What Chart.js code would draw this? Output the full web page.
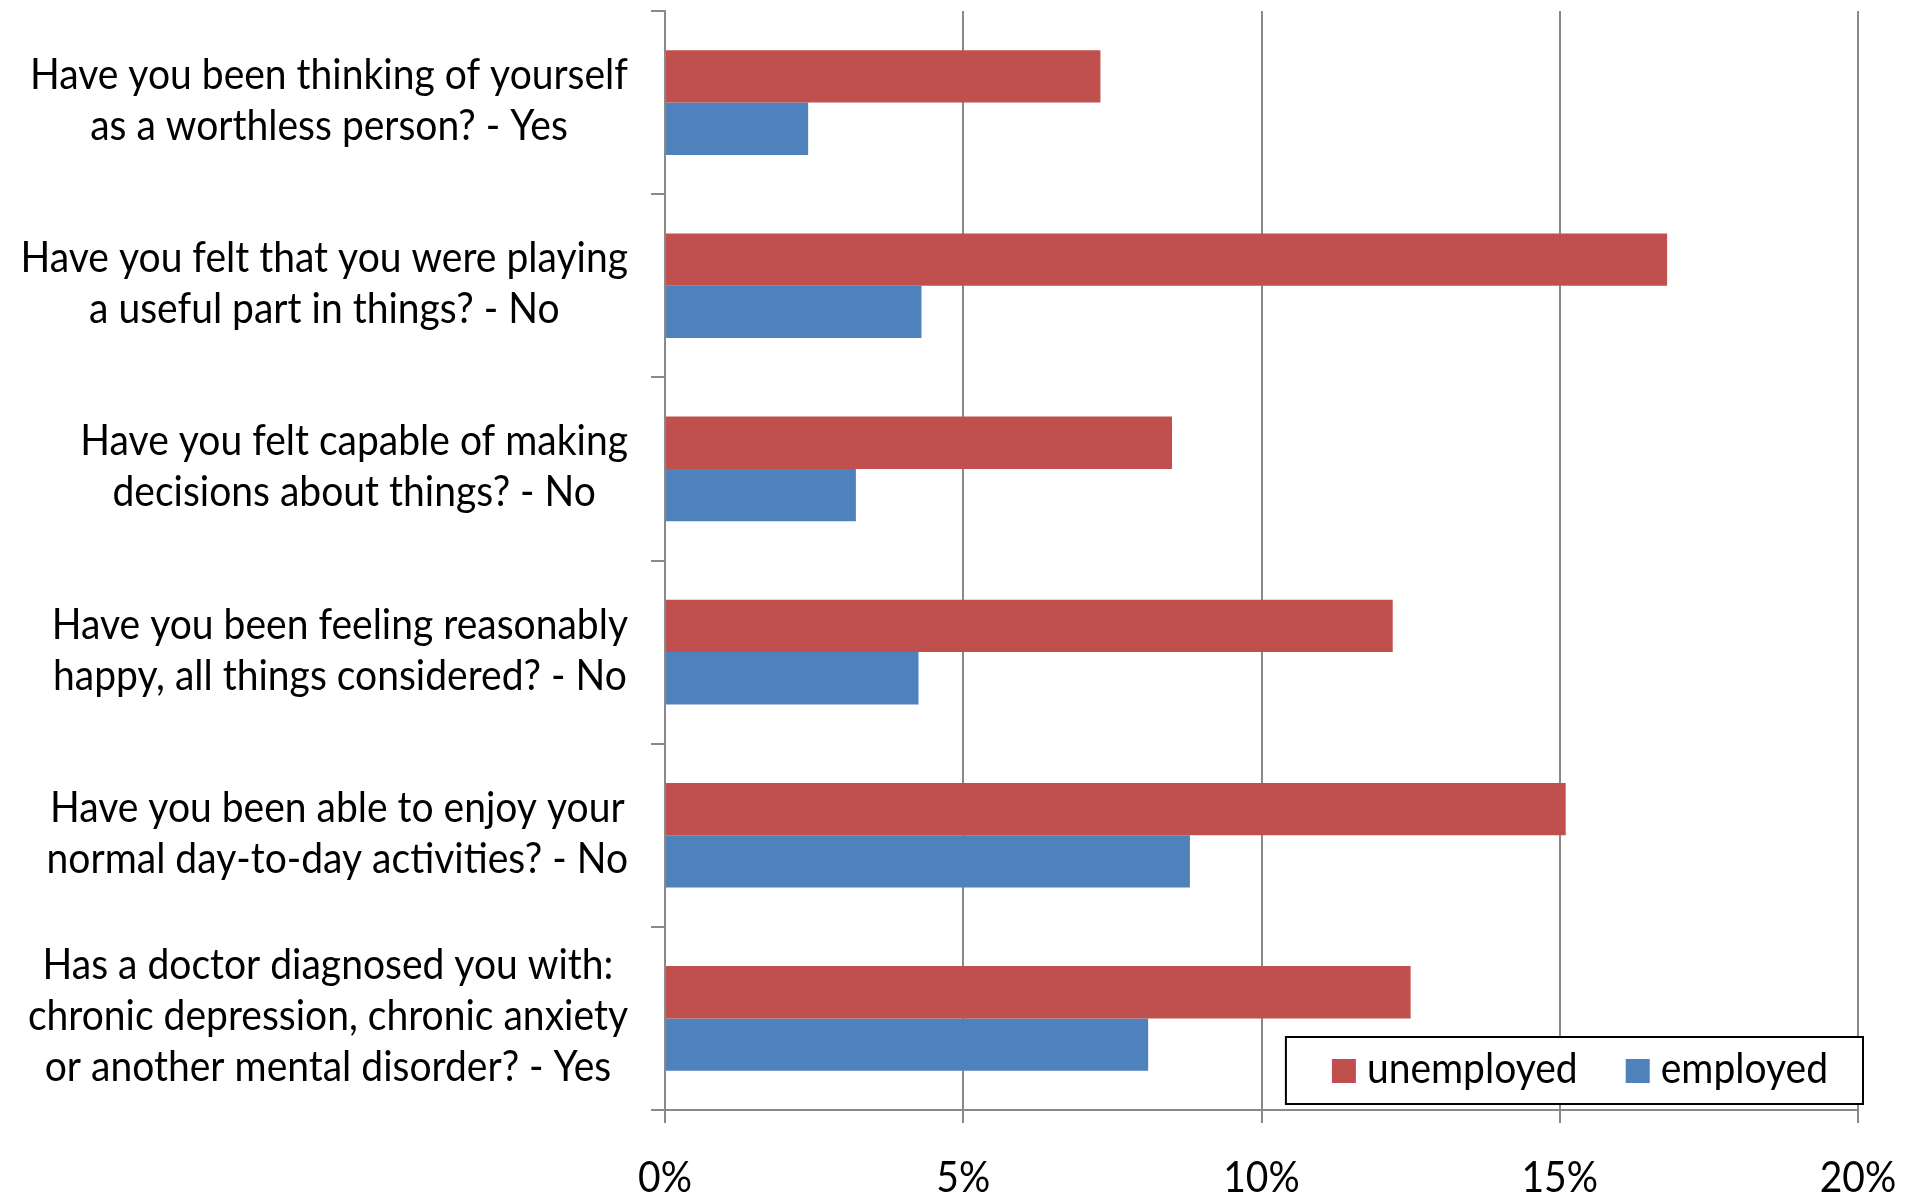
<!DOCTYPE html>
<html>
<head>
<meta charset="utf-8">
<script src="https://cdn.jsdelivr.net/npm/chart.js@4.4.1/dist/chart.umd.min.js"></script>
<style>
  html, body { margin: 0; padding: 0; background: #fff; }
</style>
</head>
<body>
<canvas id="chart" width="1917" height="1196"></canvas>
<script>
// survey answers, share of respondents (%)
const questions = [
  ['Have you been thinking of yourself', 'as a worthless person? - Yes'],
  ['Have you felt that you were playing', 'a useful part in things? - No'],
  ['Have you felt capable of making', 'decisions about things? - No'],
  ['Have you been feeling reasonably', 'happy, all things considered? - No'],
  ['Have you been able to enjoy your', 'normal day-to-day activities? - No'],
  ['Has a doctor diagnosed you with:', 'chronic depression, chronic anxiety', 'or another mental disorder? - Yes']
];
const unemployed = [7.3, 16.8, 8.5, 12.2, 15.1, 12.5];
const employed = [2.4, 4.3, 3.2, 4.25, 8.8, 8.1];
const xTicks = [0, 5, 10, 15, 20];

const FONT = "42px Lato, 'DejaVu Sans', sans-serif";
const gridColor = '#898989';
let SX = 1; // horizontal squeeze so the text looks condensed like the original

function squeeze(ctx) {
  ctx.font = FONT;
  SX = 598 / ctx.measureText(questions[0][0]).width;
}
function textW(ctx, s) { return ctx.measureText(s).width * SX; }
function put(ctx, s, x, y, align) {
  ctx.save();
  ctx.translate(x, y);
  ctx.scale(SX, 1);
  ctx.textAlign = align;
  ctx.fillText(s, 0, 0);
  ctx.restore();
}

// category labels: each block right aligned at the axis, its lines centred
const categoryLabels = {
  id: 'categoryLabels',
  afterDraw(chart) {
    const ctx = chart.ctx;
    const y = chart.scales.y;
    ctx.save();
    squeeze(ctx);
    ctx.fillStyle = '#000';
    ctx.textBaseline = 'alphabetic';
    chart.data.labels.forEach((lines, i) => {
      const cy = y.getPixelForValue(i);
      const w = Math.max(...lines.map(l => textW(ctx, l)));
      const cx = y.right - 37 - w / 2;
      lines.forEach((line, k) => {
        put(ctx, line, cx, cy + 12 + (k - (lines.length - 1) / 2) * 51, 'center');
      });
    });
    // value axis labels
    const x = chart.scales.x;
    x.ticks.forEach(t => {
      put(ctx, t.value + '%', x.getPixelForValue(t.value), x.top + 82, 'center');
    });
    ctx.restore();
  }
};

// boxed legend inside the plot, bottom right
const boxLegend = {
  id: 'boxLegend',
  afterDraw(chart) {
    const ctx = chart.ctx;
    const area = chart.chartArea;
    ctx.save();
    squeeze(ctx);
    ctx.textBaseline = 'alphabetic';
    const sets = chart.data.datasets;
    const sq = 24, padL = 46, padR = 35, gapText = 11, gapItem = 48;
    let w = padL + padR;
    sets.forEach((ds, i) => {
      w += sq + gapText + textW(ctx, ds.label) + (i < sets.length - 1 ? gapItem : 0);
    });
    const h = 67;
    const bx = area.right + 5 - w, by = area.bottom - 6 - h;
    ctx.fillStyle = '#fff';
    ctx.fillRect(bx, by, w, h);
    ctx.lineWidth = 2;
    ctx.strokeStyle = '#000';
    ctx.strokeRect(bx, by, w, h);
    let x = bx + padL;
    sets.forEach(ds => {
      ctx.fillStyle = ds.backgroundColor;
      ctx.fillRect(x, by + 22, sq, sq);
      x += sq + gapText;
      ctx.fillStyle = '#000';
      put(ctx, ds.label, x, by + 46, 'left');
      x += textW(ctx, ds.label) + gapItem;
    });
    ctx.restore();
  }
};

new Chart(document.getElementById('chart'), {
  type: 'bar',
  data: {
    labels: questions,
    datasets: [
      { label: 'unemployed', data: unemployed, backgroundColor: '#C0504D' },
      { label: 'employed', data: employed, backgroundColor: '#4F81BD' }
    ]
  },
  options: {
    indexAxis: 'y',
    responsive: false,
    devicePixelRatio: 1,
    animation: false,
    layout: { padding: { top: 11, right: 59, left: 0, bottom: 0 } },
    datasets: { bar: { categoryPercentage: 2 / 3.5, barPercentage: 1.0 } },
    plugins: { legend: { display: false }, tooltip: { enabled: false } },
    scales: {
      x: {
        min: 0,
        max: 20,
        afterBuildTicks: scale => { scale.ticks = xTicks.map(v => ({ value: v })); },
        afterFit: scale => { scale.height = 86; },
        grid: { color: gridColor, lineWidth: 2, tickLength: 13 },
        border: { color: gridColor, width: 2 },
        ticks: { display: false }
      },
      y: {
        afterFit: scale => { scale.width = 665; },
        grid: { drawOnChartArea: false, color: gridColor, lineWidth: 2, tickLength: 14, offset: true },
        border: { color: gridColor, width: 2 },
        ticks: { display: false }
      }
    }
  },
  plugins: [categoryLabels, boxLegend]
});
</script>
</body>
</html>
